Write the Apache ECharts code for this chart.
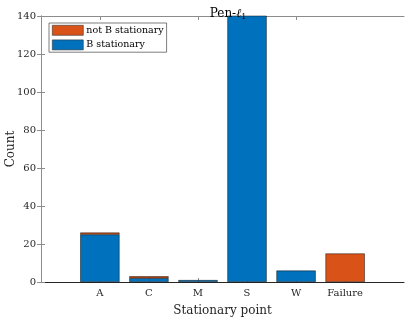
<!DOCTYPE html>
<html>
<head>
<meta charset="utf-8">
<script src="https://cdn.jsdelivr.net/npm/echarts@6/dist/echarts.min.js"></script>
<style>html,body{margin:0;padding:0;background:#fff}#c{width:407px;height:319px}</style>
</head>
<body>
<div id="c"></div>
<script>
const categories = ['A', 'C', 'M', 'S', 'W', 'Failure'];
const bStationary = [25, 2, 1, 150, 6, 0];
const notBStationary = [1, 1, 0, 0, 0, 15];
const yTicks = [0, 20, 40, 60, 80, 100, 120, 140];

const toData = arr => arr.map(v => (v === 0 ? '-' : v));

const FONT = 'DejaVu Serif';
const axisGray = '#8c8c8c';
const dark = '#262626';
const textCol = '#262626';

// outer box spans x-range [-0.2, 7.2] with categories at 1..6
const boxLeft = 41, boxRight = 404, boxTop = 16, boxBottom = 282;
const W = 407, H = 319;
const step = (boxRight - boxLeft) / 7.4;
const bandLeft = boxLeft + 0.7 * step;
const bandRight = boxRight - 0.7 * step;

const chart = echarts.init(document.getElementById('c'), null, {renderer: 'canvas'});
chart.setOption({
  animation: false,
  textStyle: {fontFamily: FONT},
  title: {
    text: '{a|Pen-}{b|ℓ}{c|1}',
    left: 223, top: 1, textAlign: 'center',
    textStyle: {
      fontWeight: 'normal',
      rich: {
        a: {fontFamily: FONT, fontSize: 12, color: '#000'},
        b: {fontFamily: FONT, fontSize: 12, fontStyle: 'italic', color: '#000'},
        c: {fontFamily: FONT, fontSize: 8, color: '#000', padding: [7, 0, 0, 0]}
      }
    }
  },
  legend: {
    orient: 'vertical', left: 49, top: 23,
    data: ['not B stationary', 'B stationary'],
    itemWidth: 31, itemHeight: 10, itemGap: 4,
    padding: [2, 3, 2, 3],
    backgroundColor: '#fff', borderColor: dark, borderWidth: 0.6,
    itemStyle: {borderColor: '#333', borderWidth: 0.6},
    textStyle: {fontFamily: FONT, fontSize: 9.5, lineHeight: 10, color: '#000', padding: [0, 0, 0, -2]},
    icon: 'rect'
  },
  grid: [
    {left: boxLeft, right: W - boxRight, top: boxTop, bottom: H - boxBottom, outerBoundsMode: 'none', containLabel: false},
    {left: bandLeft, right: W - bandRight, top: boxTop, bottom: H - boxBottom, outerBoundsMode: 'none', containLabel: false}
  ],
  xAxis: [{
    gridIndex: 0, type: 'value', min: 0, max: 1, position: 'bottom',
    name: 'Stationary point', nameLocation: 'middle', nameGap: 23, nameMoveOverlap: false,
    nameTextStyle: {fontFamily: FONT, fontSize: 12, color: textCol},
    axisLine: {onZero: false, lineStyle: {color: dark, width: 1}},
    axisTick: {show: false}, axisLabel: {show: false}, splitLine: {show: false}
  }, {
    gridIndex: 0, type: 'value', min: 0, max: 1, position: 'top',
    axisLine: {onZero: false, lineStyle: {color: axisGray, width: 1}},
    axisTick: {show: false}, axisLabel: {show: false}, splitLine: {show: false}
  }, {
    gridIndex: 1, type: 'category', data: categories, position: 'bottom',
    axisLine: {show: false, onZero: false},
    axisTick: {show: true, inside: true, length: 4, alignWithLabel: true, lineStyle: {color: axisGray}},
    axisLabel: {fontFamily: FONT, fontSize: 10, color: textCol, margin: 6},
    splitLine: {show: false}
  }, {
    gridIndex: 1, type: 'category', data: categories, position: 'top',
    axisLine: {show: false, onZero: false},
    axisTick: {show: true, inside: true, length: 4, alignWithLabel: true, lineStyle: {color: axisGray}},
    axisLabel: {show: false}, splitLine: {show: false}
  }],
  yAxis: [{
    gridIndex: 0, type: 'value', min: 0, max: 140, interval: 20,
    name: 'Count', nameLocation: 'middle', nameGap: 24, nameMoveOverlap: false,
    nameTextStyle: {fontFamily: FONT, fontSize: 12, color: textCol},
    axisLine: {show: true, lineStyle: {color: axisGray, width: 1}},
    axisTick: {show: true, inside: true, length: 4, lineStyle: {color: axisGray}},
    axisLabel: {fontFamily: FONT, fontSize: 10, color: textCol, margin: 5, formatter: v => yTicks.includes(v) ? String(v) : ''},
    splitLine: {show: false}
  }, {
    gridIndex: 0, type: 'value', min: 0, max: 140, interval: 20, position: 'right',
    axisLine: {show: true, lineStyle: {color: axisGray, width: 1}},
    axisTick: {show: true, inside: true, length: 4, lineStyle: {color: axisGray}},
    axisLabel: {show: false}, splitLine: {show: false}
  }, {
    gridIndex: 1, type: 'value', min: 0, max: 140, interval: 20,
    axisLine: {show: false}, axisTick: {show: false}, axisLabel: {show: false}, splitLine: {show: false}
  }],
  series: [{
    name: 'B stationary', type: 'bar', stack: 'total', barWidth: '80%',
    xAxisIndex: 2, yAxisIndex: 2,
    itemStyle: {color: '#0072BD', borderColor: '#111', borderWidth: 0.5},
    data: toData(bStationary)
  }, {
    name: 'not B stationary', type: 'bar', stack: 'total', barWidth: '80%',
    xAxisIndex: 2, yAxisIndex: 2,
    itemStyle: {color: '#D95319', borderColor: '#111', borderWidth: 0.5},
    data: toData(notBStationary)
  }]
});
</script>
</body>
</html>
